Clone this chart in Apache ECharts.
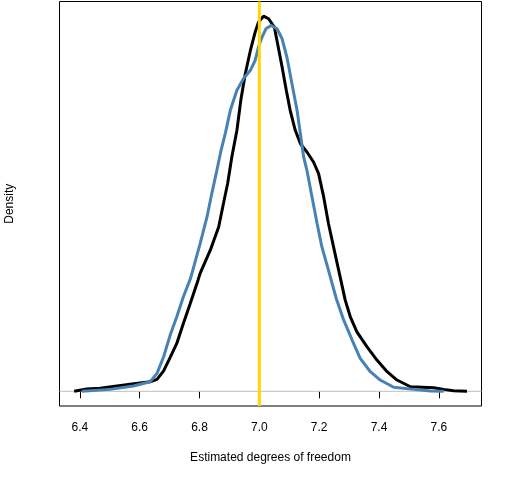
<!DOCTYPE html>
<html>
<head>
<meta charset="utf-8">
<script src="https://cdn.jsdelivr.net/npm/echarts@6/dist/echarts.min.js"></script>
<style>
  html, body { margin: 0; padding: 0; background: #fff; }
  #chart { width: 512px; height: 480px; }
</style>
</head>
<body>
<div id="chart"></div>
<script>
// density curves
const blackX = [6.381, 6.423, 6.468, 6.568, 6.635, 6.658, 6.680, 6.702, 6.724, 6.746, 6.769, 6.795, 6.802, 6.836, 6.864, 6.880, 6.894, 6.908, 6.925, 6.938, 6.953, 6.970, 6.986, 6.997, 7.014, 7.031, 7.050, 7.061, 7.076, 7.090, 7.103, 7.120, 7.137, 7.159, 7.181, 7.198, 7.215, 7.231, 7.248, 7.265, 7.287, 7.304, 7.326, 7.360, 7.393, 7.427, 7.460, 7.505, 7.583, 7.616, 7.649, 7.694]
const blackY = [0.0, 0.018, 0.023, 0.054, 0.074, 0.092, 0.158, 0.262, 0.369, 0.523, 0.677, 0.856, 0.908, 1.087, 1.266, 1.446, 1.600, 1.805, 2.010, 2.241, 2.446, 2.625, 2.766, 2.843, 2.889, 2.869, 2.805, 2.677, 2.497, 2.318, 2.164, 2.010, 1.908, 1.843, 1.766, 1.677, 1.497, 1.292, 1.112, 0.933, 0.702, 0.574, 0.458, 0.343, 0.241, 0.151, 0.087, 0.035, 0.028, 0.015, 0.005, 0.0]
const blueX = [6.407, 6.501, 6.579, 6.635, 6.658, 6.680, 6.702, 6.724, 6.746, 6.770, 6.802, 6.825, 6.841, 6.858, 6.872, 6.886, 6.903, 6.925, 6.947, 6.970, 6.986, 6.997, 7.009, 7.022, 7.039, 7.059, 7.076, 7.092, 7.109, 7.126, 7.137, 7.148, 7.159, 7.176, 7.193, 7.209, 7.231, 7.257, 7.282, 7.310, 7.337, 7.371, 7.404, 7.449, 7.516, 7.572, 7.616]
const blueY = [0.0, 0.015, 0.041, 0.074, 0.138, 0.266, 0.433, 0.574, 0.728, 0.870, 1.138, 1.343, 1.523, 1.702, 1.856, 1.985, 2.164, 2.318, 2.408, 2.472, 2.548, 2.651, 2.728, 2.792, 2.818, 2.792, 2.715, 2.574, 2.369, 2.164, 1.985, 1.805, 1.702, 1.497, 1.292, 1.112, 0.933, 0.715, 0.548, 0.395, 0.254, 0.151, 0.087, 0.031, 0.015, 0.002, 0.0]
// axis
const xTicks = [6.4, 6.6, 6.8, 7.0, 7.2, 7.4, 7.6]
const xMin = 6.332
const xMax = 7.7425
const yMin = -0.113
const yMax = 3.002
const trueDf = 7.0

const zip = (xs, ys) => xs.map((x, i) => [x, ys[i]])

const chart = echarts.init(document.getElementById('chart'), null, { renderer: 'canvas' })
const font = 'Liberation Sans, Arial, sans-serif'

chart.setOption({
    backgroundColor: '#ffffff',
    animation: false,
    grid: {
        left: 59.5,
        right: 30.5,
        top: 1.5,
        bottom: 74,
        outerBoundsMode: 'none',
        containLabel: false,
        show: true,
        borderColor: '#000000',
        borderWidth: 1,
        backgroundColor: 'transparent'
    },
    xAxis: {
        type: 'value',
        min: xMin,
        max: xMax,
        name: 'Estimated degrees of freedom',
        nameLocation: 'middle',
        nameGap: 46,
        nameTextStyle: { color: '#000', fontSize: 12, fontFamily: font },
        axisLine: { show: false },
        splitLine: { show: false },
        axisTick: {
            show: true,
            length: 7,
            customValues: xTicks,
            lineStyle: { color: '#000', width: 1 }
        },
        axisLabel: {
            customValues: xTicks,
            margin: 16,
            color: '#000',
            fontSize: 12,
            fontFamily: font,
            formatter: v => v.toFixed(1)
        }
    },
    yAxis: {
        type: 'value',
        min: yMin,
        max: yMax,
        name: 'Density',
        nameLocation: 'middle',
        nameGap: 44,
        nameTextStyle: { color: '#000', fontSize: 12, fontFamily: font },
        axisLine: { show: false },
        axisTick: { show: false },
        axisLabel: { show: false },
        splitLine: { show: false }
    },
    series: [
        {
            // zero line
            type: 'line',
            data: [[xMin, 0], [xMax, 0]],
            symbol: 'none',
            silent: true,
            lineStyle: { color: '#bebebe', width: 1 }
        },
        {
            name: 'black',
            type: 'line',
            data: zip(blackX, blackY),
            symbol: 'none',
            lineStyle: { color: '#000000', width: 3 }
        },
        {
            name: 'blue',
            type: 'line',
            data: zip(blueX, blueY),
            symbol: 'none',
            lineStyle: { color: '#4682b4', width: 3 }
        },
        {
            // true value
            type: 'line',
            data: [[trueDf, yMin], [trueDf, yMax]],
            symbol: 'none',
            silent: true,
            lineStyle: { color: '#ffd700', width: 3 }
        }
    ]
})
</script>
</body>
</html>
